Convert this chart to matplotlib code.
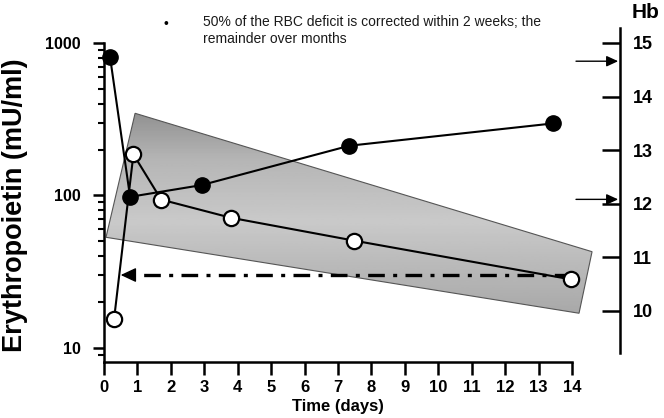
import numpy as np
import matplotlib
matplotlib.use('Agg')
import matplotlib.pyplot as plt
from matplotlib.patches import Polygon
from matplotlib.ticker import LogLocator, NullFormatter

plt.rcParams['font.family'] = ['Liberation Sans', 'DejaVu Sans']

# data
days_filled = [0.18, 0.78, 2.92, 7.34, 13.44]
epo_filled = [812, 98, 117, 212, 297]
days_open = [0.30, 0.88, 1.71, 3.79, 7.48, 13.96]
epo_open = [15.4, 186, 94, 71.5, 50.6, 28.2]
band_days = [0.93, 14.6, 14.21, 0.06]
band_epo = [346, 42.8, 16.9, 53.2]
plateau_days = [13.96, 0.9]
plateau_tip = 0.5
plateau_epo = 30.1
hb_marks = [14.66, 12.08]
epo_ticks = [10, 100, 1000]
hb_ticks = [10, 11, 12, 13, 14, 15]
day_ticks = list(range(15))
note = ('50% of the RBC deficit is corrected within 2 weeks; the\n'
        'remainder over months')

fig = plt.figure(figsize=(6.64, 4.18), dpi=100)
ax = fig.add_axes([104/664, 56/418, 468/664, 319/418])
ax.set_yscale('log')
ax.patch.set_visible(False)

# shaded band: outline on the chart, gradient on a background layer
band = Polygon(np.column_stack([band_days, band_epo]), closed=True,
               facecolor='none', edgecolor='#555555', lw=0.8, zorder=2,
               clip_on=False)
ax.add_patch(band)

bg = fig.add_axes([0, 0, 1, 1])
bg.set_zorder(-1)
bg.set_axis_off()
grad = np.linspace(0, 1, 256)
shade = np.interp(grad, [0.25, 0.47, 0.62, 0.73], [0.66, 0.79, 0.71, 0.57])
img = bg.imshow(shade[:, None], extent=[0, 1, 0, 1], origin='lower',
                cmap='gray', vmin=0, vmax=1, aspect='auto')
bg.set_xlim(0, 1)
bg.set_ylim(0, 1)
img.set_clip_path(band)

# dash-dot plateau line with arrow head
ax.plot(plateau_days, [plateau_epo, plateau_epo], color='black', lw=2.4,
        dashes=(5, 2.5, 1.2, 2.5), zorder=3)
ax.annotate('', xy=(plateau_tip, plateau_epo), xytext=(plateau_days[1], plateau_epo),
            arrowprops=dict(arrowstyle='-|>,head_length=0.47,head_width=0.22',
                            mutation_scale=20, color='black', lw=1,
                            shrinkA=0, shrinkB=0), zorder=3)

ax.plot(days_filled, epo_filled, '-o', color='black', lw=1.5, ms=11,
        mfc='black', zorder=5, clip_on=False)
ax.plot(days_open, epo_open, '-o', color='black', lw=1.5, ms=11,
        mfc='white', mew=1.6, zorder=6, clip_on=False)

ax.set_xlim(0, 14)
ax.set_ylim(8.094, 1000)
ax.set_xticks(day_ticks)
ax.set_yticks(epo_ticks)
ax.set_yticklabels([str(t) for t in epo_ticks])
ax.yaxis.set_minor_locator(LogLocator(base=10, subs=np.arange(2, 10)))
ax.yaxis.set_minor_formatter(NullFormatter())
for s in ['top', 'right']:
    ax.spines[s].set_visible(False)
for s in ['left', 'bottom']:
    ax.spines[s].set_linewidth(1.8)
ax.tick_params(axis='x', length=9, width=1.8, pad=4, labelsize=12)
ax.tick_params(axis='y', which='major', length=8, width=1.8, pad=9, labelsize=11.5)
ax.tick_params(axis='y', which='minor', length=4.5, width=1.5)
plt.setp(ax.get_xticklabels() + ax.get_yticklabels(), fontweight='bold')
ax.set_xlabel('Time (days)', fontsize=12, fontweight='bold', labelpad=3)

# Hb axis on the right
ax2 = ax.twinx()
ax2.set_ylim(9.043, 14.913)
for s in ['top', 'left', 'bottom']:
    ax2.spines[s].set_visible(False)
ax2.spines['right'].set_position(('outward', 34.6))
ax2.spines['right'].set_bounds(9.214, 15.287)
ax2.spines['right'].set_linewidth(1.8)
ax2.set_yticks(hb_ticks)
ax2.tick_params(axis='y', direction='in', length=13, width=1.8, pad=9, labelsize=13)
plt.setp(ax2.get_yticklabels(), fontweight='bold')
for hb in hb_marks:
    ax2.annotate('', xy=(15.38, hb), xytext=(14.12, hb), annotation_clip=False,
                 arrowprops=dict(arrowstyle='-|>,head_length=0.5,head_width=0.23',
                                 mutation_scale=14, color='black', lw=1,
                                 shrinkA=0, shrinkB=0, clip_on=False))

fig.text(646/664, 1 - 12/418, 'Hb', fontsize=15, fontweight='bold',
         ha='center', va='center')
fig.text(15/664, 1 - 205/418, 'Erythropoietin (mU/ml)', rotation=90,
         fontsize=19.5, fontweight='bold', ha='center', va='center')
fig.text(166/664, 1 - 24/418, '\u2022', fontsize=10, ha='center', va='center')
fig.text(203/664, 1 - 15/418, note, fontsize=10, va='top', ha='left',
         linespacing=1.3, color='#1a1a1a')

fig.savefig('out.png', dpi=100)
